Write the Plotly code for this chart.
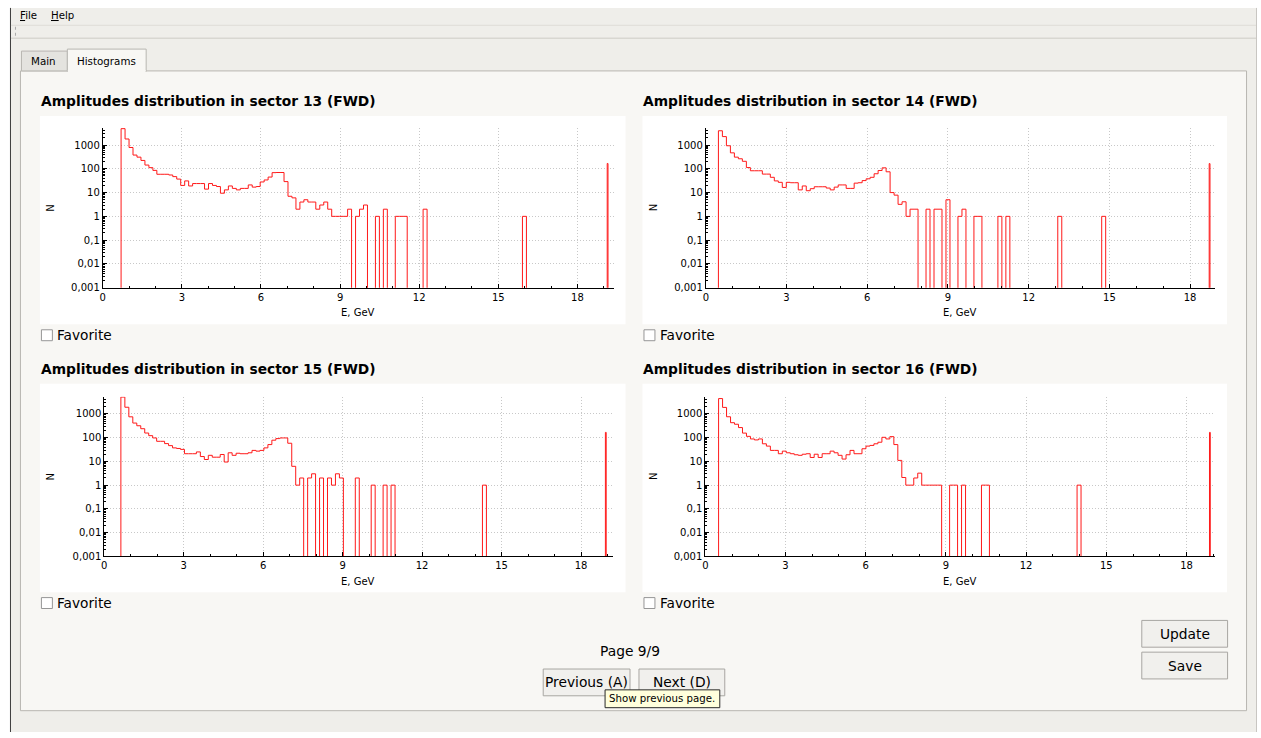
import plotly.graph_objects as go

FIG_W, FIG_H = 1261, 738

# ---------------- data ----------------
sector_ids = [13, 14, 15, 16]
plot_titles = ["Amplitudes distribution in sector %d (FWD)" % s for s in sector_ids]
y_tick_values = [0.001, 0.01, 0.1, 1, 10, 100, 1000]
y_tick_labels = ["0,001", "0,01", "0,1", "1", "10", "100", "1000"]
x_axis_title = "E, GeV"
y_axis_title = "N"

counts_s13 = [
    4900, 1800, 790, 380, 310, 225, 144, 112, 86, 59,
    59, 59, 55, 47, 37, 20, 31, 19, 24, 24,
    24, 14, 24, 20, 18, 9.4, 13, 19, 15, 13,
    15, 15, 21, 17, 18, 28, 34, 45, 69, 70,
    70, 29, 7, 6, 2, 4, 5, 4, 4, 2,
    3, 4, 2, 1, 1, 1, 1, 2, 0, 1,
    2, 3, 0, 0, 1, 0, 2, 0, 0, 1,
    1, 1, 0, 0, 0, 0, 2, 0, 0, 0,
    0, 0, 0, 0, 0, 0, 0, 0, 0, 0,
    0, 0, 0, 0, 0, 0, 0, 0, 0, 0,
    0, 1,
]
counts_s14 = [
    4000, 2270, 935, 470, 310, 265, 207, 113, 83, 83,
    83, 60, 60, 44, 31, 27, 16.5, 27, 26, 26,
    13, 19, 12, 14.6, 17.6, 17.6, 17.6, 15.5, 13, 17,
    21, 21, 15, 15, 25, 26, 32, 38, 44, 62,
    85, 110, 75, 10, 7.8, 3.2, 4.1, 1, 2, 2,
    0, 0, 2, 0, 2, 2, 0, 5, 0, 0,
    1, 2, 0, 0, 1, 1, 0, 0, 0, 0,
    1, 0, 1, 0, 0, 0, 0, 0, 0, 0,
    0, 0, 0, 0, 0, 1, 0, 0, 0, 0,
    0, 0, 0, 0, 0, 0, 1,
]
counts_s15 = [
    5100, 1900, 750, 410, 316, 237, 156, 121, 97, 70,
    70, 56, 46, 37, 35, 32, 21, 21, 21, 25,
    16, 12, 18, 15, 15, 19.5, 9.4, 23, 18, 22,
    21, 21, 23, 29, 27, 29, 37, 51, 78, 91,
    97, 97, 58, 6.2, 1, 2, 0, 2, 3, 0,
    2, 0, 2, 1, 3, 2, 0, 0, 0, 2,
    0, 0, 0, 1, 0, 0, 1, 0, 1, 0,
    0, 0, 0, 0, 0, 0, 0, 0, 0, 0,
    0, 0, 0, 0, 0, 0, 0, 0, 0, 0,
    0, 1,
]
counts_s16 = [
    4400, 1870, 755, 425, 365, 265, 155, 113, 88, 80,
    88, 55, 44, 29, 29, 21, 27, 23, 21, 19,
    18, 20, 21, 14.6, 20, 14.6, 21, 21, 27, 23,
    18, 12.5, 19, 29, 21, 21, 34, 44, 47, 55,
    64, 103, 88, 110, 51, 11, 2.1, 1, 1, 2,
    3.2, 1, 1, 1, 1, 1, 0, 0, 1, 1,
    0, 1, 0, 0, 0, 0, 1, 1, 0, 0,
    0, 0, 0, 0, 0, 0, 0, 0, 0, 0,
    0, 0, 0, 0, 0, 0, 0, 0, 0, 0,
    1,
]
all_counts = [counts_s13, counts_s14, counts_s15, counts_s16]
first_bin_edge_gev = [0.695, 0.468, 0.628, 0.496]
bin_width_gev = [0.1507, 0.1484, 0.1500, 0.1490]
overflow_edge_gev = [19.13, 18.71, 18.92, 18.86]
overflow_width_gev = [0.03, 0.03, 0.03, 0.03]
overflow_counts = [168, 166, 166, 166]
x_axis_max_gev = [19.37, 18.93, 19.19, 19.07]
x_major_step = 3
x_minor_step = 1

# ---------------- geometry / style (pixels) ----------------
PLOT_BOXES = [(37, 117, 624, 327), (641, 117, 1227, 327),
              (37, 387, 624, 597), (641, 387, 1227, 597)]
AXIS_RECTS = [(100, 612, 129, 290), (704.5, 1215, 129, 290),
              (101.5, 611, 400, 561), (704, 1215, 400, 561)]
Y_LOG_RANGE = [-3, 3.72]
FLOOR = 1e-5

WIN_BG = "rgb(239,238,234)"
PANEL_BG = "rgb(248,247,244)"
TAB_BG = "rgb(228,227,223)"
BORDER = "rgb(184,182,177)"
BTN_BG = "rgb(241,240,237)"
BTN_BORDER = "rgb(168,166,162)"
GRID = "rgb(200,200,200)"
LINE_RED = "rgb(255,25,25)"
FONT = "DejaVu Sans"


def px(x):
    return x / FIG_W


def py(y):
    return 1 - y / FIG_H


shapes = []
annotations = []


def rect(x0, y0, x1, y1, fill, line=None, lw=1, layer="below"):
    shapes.append(dict(type="rect", xref="paper", yref="paper",
                       x0=px(x0), x1=px(x1), y0=py(y0), y1=py(y1),
                       fillcolor=fill, layer=layer,
                       line=dict(color=line if line else fill, width=lw if line else 0)))


def hline(x0, x1, y, color, lw=1, layer="below", dash="solid"):
    shapes.append(dict(type="line", xref="paper", yref="paper",
                       x0=px(x0), x1=px(x1), y0=py(y), y1=py(y),
                       line=dict(color=color, width=lw, dash=dash), layer=layer))


def vline(x, y0, y1, color, lw=1, layer="below", dash="solid"):
    shapes.append(dict(type="line", xref="paper", yref="paper",
                       x0=px(x), x1=px(x), y0=py(y0), y1=py(y1),
                       line=dict(color=color, width=lw, dash=dash), layer=layer))


def text(x, y, s, size=11, family=FONT, anchor="left", color="black", angle=0):
    annotations.append(dict(xref="paper", yref="paper", x=px(x), y=py(y), text=s,
                            showarrow=False, xanchor=anchor, yanchor="middle",
                            textangle=angle, borderpad=0,
                            font=dict(family=family, size=size, color=color)))


# window chrome
rect(7, 8, 1256, 738, WIN_BG)
vline(7.5, 8, 738, "rgb(60,60,60)")
vline(1256.5, 8, 738, "rgb(200,198,194)")
hline(8, 1256, 25.5, "rgb(222,220,215)")
hline(8, 1256, 38.5, "rgb(205,203,198)")
vline(12.5, 27, 37, "rgb(170,170,170)", dash="dot")
text(16.5, 16, "<u>F</u>ile", size=10.2)
text(47, 16, "<u>H</u>elp", size=10.2)

# tab widget
rect(17.5, 71.5, 1246.5, 716.5, PANEL_BG, BORDER)
rect(18.5, 51.5, 64.5, 71.5, TAB_BG, BORDER)
rect(64.5, 49.5, 143.5, 72, PANEL_BG, BORDER)
hline(65, 143, 71.5, PANEL_BG, lw=2)
text(41, 62, "Main", size=10.3, anchor="center")
text(104, 61, "Histograms", size=10.3, anchor="center")

# plot backgrounds, titles, checkboxes
for i in range(4):
    bx0, by0, bx1, by1 = PLOT_BOXES[i]
    rect(bx0, by0, bx1, by1, "white")
    text(bx0, by0 - 15, "<b>%s</b>" % plot_titles[i], size=13.8)
    rect(bx0 + 1.5, by1 + 5.5, bx0 + 12.5, by1 + 16.5, "white", "rgb(150,150,150)")
    text(bx0 + 16.5, by1 + 11, "Favorite", size=13.7)
    ax0, ax1, ay0, ay1 = AXIS_RECTS[i]
    text(bx0 + 11, (ay0 + ay1) / 2, y_axis_title, size=10, anchor="center", angle=-90)
    text((ax0 + ax1) / 2, ay1 + 25, x_axis_title, size=10, anchor="center")

# bottom controls
text(628, 656, "Page 9/9", size=13.8, anchor="center")
for (x0, y0, x1, y1, label) in [(541.5, 674.5, 628.5, 701.5, "Previous (A)"),
                                (637.5, 674.5, 723.5, 701.5, "Next (D)"),
                                (1141.5, 625.5, 1227.5, 652.5, "Update"),
                                (1141.5, 657.5, 1227.5, 684.5, "Save")]:
    rect(x0, y0, x1, y1, BTN_BG, BTN_BORDER)
    text((x0 + x1) / 2, (y0 + y1) / 2, label, size=13.8, anchor="center")
rect(603.5, 695.5, 718.5, 713.5, "rgb(255,255,220)", "rgb(40,40,40)", layer="above")
text(661, 704.5, "Show previous page.", size=10.2, anchor="center")

# ---------------- traces ----------------
fig = go.Figure()
layout_axes = {}
for i in range(4):
    counts = all_counts[i]
    start = first_bin_edge_gev[i]
    w = bin_width_gev[i]
    edges = [start + k * w for k in range(len(counts) + 1)]
    vals = [c if c > 0 else FLOOR for c in counts]
    xs = [edges[0]] + edges[:-1] + [edges[-1]]
    ys = [FLOOR] + vals + [FLOOR]
    xn = "x" if i == 0 else "x%d" % (i + 1)
    yn = "y" if i == 0 else "y%d" % (i + 1)
    fig.add_trace(go.Scatter(x=xs, y=ys, xaxis=xn, yaxis=yn, mode="lines",
                             line=dict(color=LINE_RED, width=1, shape="hv"),
                             hoverinfo="skip", showlegend=False))
    o = overflow_edge_gev[i]
    ow = overflow_width_gev[i]
    fig.add_trace(go.Scatter(x=[o, o, o + ow], y=[FLOOR, overflow_counts[i], FLOOR],
                             xaxis=xn, yaxis=yn, mode="lines",
                             line=dict(color=LINE_RED, width=1, shape="hv"),
                             hoverinfo="skip", showlegend=False))

    ax0, ax1, ay0, ay1 = AXIS_RECTS[i]
    xk = "xaxis" if i == 0 else "xaxis%d" % (i + 1)
    yk = "yaxis" if i == 0 else "yaxis%d" % (i + 1)
    layout_axes[xk] = dict(
        domain=[px(ax0), px(ax1)], anchor=yn, range=[0, x_axis_max_gev[i]],
        tick0=0, dtick=x_major_step, ticks="inside", ticklen=4, tickcolor="black",
        showline=True, linecolor="black", linewidth=1, zeroline=False,
        showgrid=True, gridcolor=GRID, griddash="1px,2px", gridwidth=1,
        tickfont=dict(family=FONT, size=10, color="black"),
        minor=dict(dtick=x_minor_step, tick0=0, ticks="inside", ticklen=2,
                   tickcolor="black", showgrid=False),
        fixedrange=True,
    )
    layout_axes[yk] = dict(
        domain=[py(ay1), py(ay0)], anchor=xn, type="log", range=Y_LOG_RANGE,
        tickmode="array", tickvals=y_tick_values, ticktext=y_tick_labels,
        ticks="inside", ticklen=4, tickcolor="black",
        showline=True, linecolor="black", linewidth=1, zeroline=False,
        showgrid=True, gridcolor=GRID, griddash="1px,2px", gridwidth=1,
        tickfont=dict(family=FONT, size=10, color="black"),
        minor=dict(dtick="D1", ticks="inside", ticklen=2, tickcolor="black", showgrid=False),
        fixedrange=True,
    )

fig.update_layout(
    width=FIG_W, height=FIG_H, margin=dict(l=0, r=0, t=0, b=0),
    paper_bgcolor="white", plot_bgcolor="rgba(0,0,0,0)",
    font=dict(family=FONT, size=10, color="black"),
    shapes=shapes, annotations=annotations, showlegend=False,
    **layout_axes,
)

fig.write_html("out.html", config={"displayModeBar": False},
               post_script="document.body.style.margin='0px';document.body.style.overflow='hidden';")
